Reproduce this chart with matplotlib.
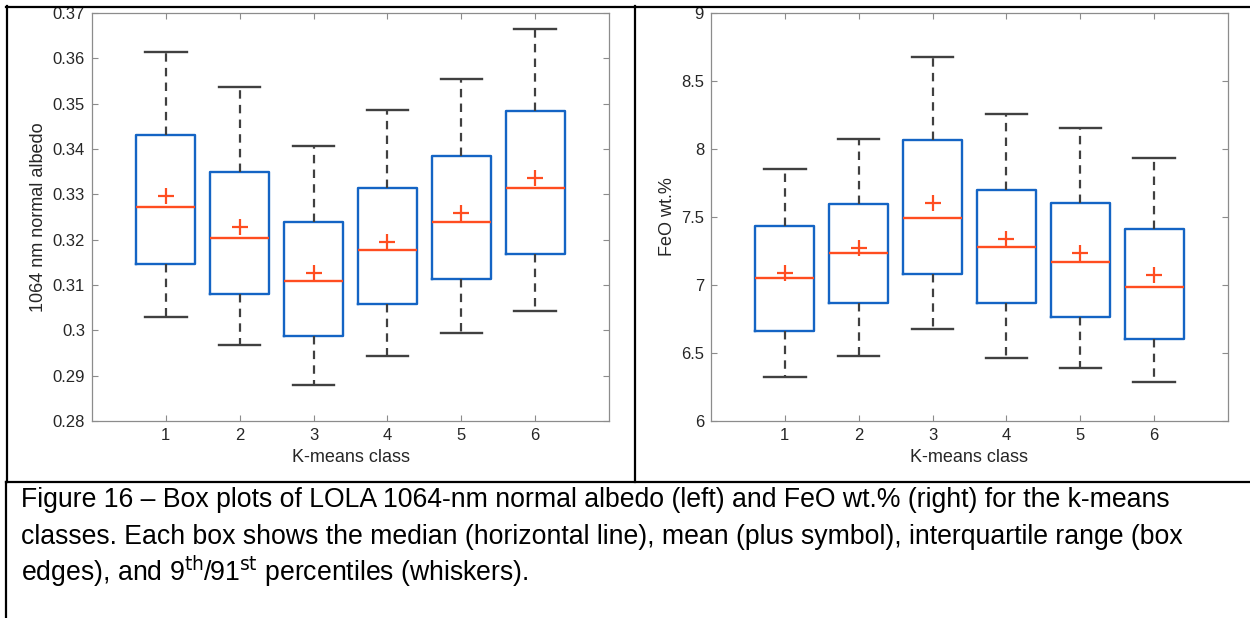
import matplotlib.pyplot as plt
from matplotlib.lines import Line2D

plt.rcParams['font.family'] = ['Liberation Sans', 'DejaVu Sans']

# K-means classes
classes = [1, 2, 3, 4, 5, 6]

# LOLA 1064-nm normal albedo (left panel)
alb_p09 = [0.3030, 0.2968, 0.2880, 0.2944, 0.2995, 0.3043]
alb_q1 = [0.3147, 0.3081, 0.2988, 0.3058, 0.3114, 0.3168]
alb_med = [0.3272, 0.3204, 0.3108, 0.3178, 0.3240, 0.3313]
alb_mean = [0.3297, 0.3229, 0.3127, 0.3195, 0.3258, 0.3337]
alb_q3 = [0.3430, 0.3350, 0.3239, 0.3314, 0.3385, 0.3483]
alb_p91 = [0.3614, 0.3537, 0.3407, 0.3487, 0.3554, 0.3664]
alb_ticks = [0.28, 0.29, 0.30, 0.31, 0.32, 0.33, 0.34, 0.35, 0.36, 0.37]
alb_ticklabels = ['0.28', '0.29', '0.3', '0.31', '0.32', '0.33', '0.34', '0.35', '0.36', '0.37']

# FeO wt.% (right panel)
feo_p09 = [6.322, 6.478, 6.677, 6.466, 6.392, 6.284]
feo_q1 = [6.662, 6.868, 7.079, 6.871, 6.765, 6.603]
feo_med = [7.054, 7.234, 7.491, 7.280, 7.170, 6.988]
feo_mean = [7.087, 7.271, 7.606, 7.337, 7.238, 7.074]
feo_q3 = [7.433, 7.599, 8.063, 7.700, 7.602, 7.415]
feo_p91 = [7.854, 8.075, 8.678, 8.261, 8.151, 7.937]
feo_ticks = [6, 6.5, 7, 7.5, 8, 8.5, 9]
feo_ticklabels = ['6', '6.5', '7', '7.5', '8', '8.5', '9']

caption = [
    'Figure 16 \u2013 Box plots of LOLA 1064-nm normal albedo (left) and FeO wt.% (right) for the k-means',
    'classes. Each box shows the median (horizontal line), mean (plus symbol), interquartile range (box',
    'edges), and 9$^{\\mathrm{th}}$/91$^{\\mathrm{st}}$ percentiles (whiskers).',
]

blue = '#1464c4'
red = '#ff4d20'
grey = '#404040'


def make_stats(lo, q1, med, mean, q3, hi):
    return [dict(whislo=a, q1=b, med=c, mean=d, q3=e, whishi=f, fliers=[])
            for a, b, c, d, e, f in zip(lo, q1, med, mean, q3, hi)]


def draw_panel(ax, stats, ticks, ticklabels, ylabel):
    ax.bxp(stats, positions=classes, widths=0.8, capwidths=0.56,
           showmeans=True, showfliers=False,
           boxprops=dict(color=blue, lw=1.7),
           whiskerprops=dict(color=grey, lw=1.6, linestyle=(0, (3.8, 2.8))),
           capprops=dict(color=grey, lw=1.7),
           medianprops=dict(color=red, lw=1.7),
           meanprops=dict(marker='+', markeredgecolor=red, markersize=11, mew=1.6))
    ax.set_xlim(0, 7)
    ax.set_ylim(ticks[0], ticks[-1])
    ax.set_xticks(classes)
    ax.set_xticklabels([str(c) for c in classes])
    ax.set_yticks(ticks)
    ax.set_yticklabels(ticklabels)
    ax.tick_params(direction='in', top=True, right=True, length=4, width=0.8,
                   color='#8c8c8c', labelcolor='#262626', labelsize=12, pad=5)
    for s in ax.spines.values():
        s.set_color('#8c8c8c')
        s.set_linewidth(0.9)
    ax.set_xlabel('K-means class', fontsize=13, color='#262626', labelpad=4)
    ax.set_ylabel(ylabel, fontsize=13, color='#262626', labelpad=4)


fig = plt.figure(figsize=(12.5, 6.18), dpi=100)
W, H = 1250, 618

ax1 = fig.add_axes([92 / W, 1 - 421 / H, (609 - 92) / W, 408 / H])
ax2 = fig.add_axes([711 / W, 1 - 421 / H, (1228 - 711) / W, 408 / H])

draw_panel(ax1, make_stats(alb_p09, alb_q1, alb_med, alb_mean, alb_q3, alb_p91),
           alb_ticks, alb_ticklabels, '1064 nm normal albedo')
draw_panel(ax2, make_stats(feo_p09, feo_q1, feo_med, feo_mean, feo_q3, feo_p91),
           feo_ticks, feo_ticklabels, 'FeO wt.%')


# table borders around the figure and caption
def border(x0, y0, x1, y1, lw=1.6):
    fig.add_artist(Line2D([x0 / W, x1 / W], [1 - y0 / H, 1 - y1 / H],
                          transform=fig.transFigure, color='black', lw=lw))


border(6, 6.5, W, 6.5)
border(7, 6, 7, 482)
border(635, 6, 635, 482)
border(6, 482, W, 482)
border(6, 482, 6, H)

for i, line in enumerate(caption):
    fig.text(21 / W, 1 - (507 + 37 * i) / H, line, fontsize=19.2,
             color='black', va='baseline', ha='left')

fig.savefig('out.png', dpi=100)
